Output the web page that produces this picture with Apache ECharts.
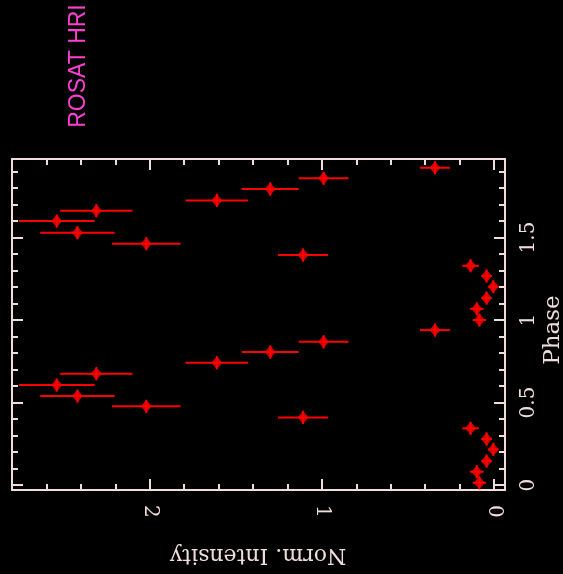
<!DOCTYPE html>
<html><head><meta charset="utf-8">
<script src="https://cdn.jsdelivr.net/npm/echarts@6/dist/echarts.min.js"></script>
<style>html,body{margin:0;padding:0;background:#000;}#c{width:563px;height:574px;}</style>
</head><body><div id="c"></div>
<script>
// Data (two phase cycles)
const phase = [0.014,0.081,0.145,0.216,0.279,0.344,0.410,0.477,0.539,0.606,0.675,0.741,0.806,0.868,0.939,
               1.000,1.068,1.133,1.202,1.267,1.329,1.394,1.462,1.529,1.600,1.662,1.725,1.794,1.859,1.923];
const intensity = [0.085,0.100,0.043,0.004,0.043,0.136,1.109,2.020,2.420,2.540,2.310,1.610,1.300,0.990,0.343,
                   0.085,0.100,0.043,0.004,0.043,0.136,1.109,2.020,2.420,2.540,2.310,1.610,1.300,0.990,0.343];
const intensityErr = [0.039,0.040,0.030,0.030,0.030,0.048,0.145,0.199,0.216,0.220,0.210,0.182,0.166,0.145,0.087,
                      0.039,0.040,0.030,0.030,0.030,0.048,0.145,0.199,0.216,0.220,0.210,0.182,0.166,0.145,0.087];
const phaseHalfBin = 0.04;
const intensityMinorTicks = [0,0.2,0.4,0.6,0.8,1,1.2,1.4,1.6,1.8,2,2.2,2.4,2.6];
const intensityMajorTicks = [0,1,2];
const phaseMinorTicks = [0,0.1,0.2,0.3,0.4,0.5,0.6,0.7,0.8,0.9,1,1.1,1.2,1.3,1.4,1.5,1.6,1.7,1.8,1.9];
const phaseMajorTicks = [0,0.5,1,1.5];
const title = 'ROSAT HRI';
const xName = 'Norm. Intensity';
const yName = 'Phase';

const fg = '#f0dcdc';
const red = '#ff0000';
const serif = 'DejaVu Serif';
const data = phase.map((p, i) => [intensity[i], p, intensityErr[i]]);

const xBase = {type:'value', min:-0.064, max:2.8, inverse:true, splitLine:{show:false}};
const yBase = {type:'value', min:-0.03, max:1.976, splitLine:{show:false}};
function ax(base, grid, pos, ticks, len, showLine, labelOpt){
  return Object.assign({}, base, {gridIndex:grid, position:pos,
    axisLine:{show:showLine, onZero:false, lineStyle:{color:fg, width:2}},
    axisTick:{show:true, inside:true, length:len, customValues:ticks, lineStyle:{color:fg, width:2}},
    axisLabel: labelOpt ? labelOpt : {show:false}});
}
const xLabel = {show:true, customValues:intensityMajorTicks, rotate:-90, margin:15, fontSize:20, fontFamily:serif, color:fg};
const yLabel = {show:true, customValues:phaseMajorTicks, rotate:90, margin:14, fontSize:20, fontFamily:serif, color:fg};
const gridRect = {left:12, right:58, top:159, bottom:84};

const chart = echarts.init(document.getElementById('c'), null, {renderer:'canvas'});
chart.setOption({
  backgroundColor:'#000',
  animation:false,
  grid:[Object.assign({}, gridRect), Object.assign({}, gridRect)],
  xAxis:[
    ax(xBase, 0, 'bottom', intensityMinorTicks, 6, true, xLabel),
    ax(xBase, 0, 'top', intensityMinorTicks, 6, true, null),
    ax(xBase, 1, 'bottom', intensityMajorTicks, 11, false, null),
    ax(xBase, 1, 'top', intensityMajorTicks, 11, false, null)
  ],
  yAxis:[
    ax(yBase, 0, 'right', phaseMinorTicks, 6, true, yLabel),
    ax(yBase, 0, 'left', phaseMinorTicks, 6, true, null),
    ax(yBase, 1, 'right', phaseMajorTicks, 11, false, null),
    ax(yBase, 1, 'left', phaseMajorTicks, 11, false, null)
  ],
  graphic:[
    {type:'text', x:79, y:66, rotation:Math.PI/2,
     style:{text:title, x:0, y:0, align:'center', verticalAlign:'middle', fill:'#ff3fd2',
            font:'23px "Liberation Sans", Arial, sans-serif'}},
    {type:'text', x:258, y:555, rotation:Math.PI,
     style:{text:xName, x:0, y:0, align:'center', verticalAlign:'middle', fill:fg,
            font:'22px "DejaVu Serif", serif'}},
    {type:'text', x:553, y:330, rotation:Math.PI/2,
     style:{text:yName, x:0, y:0, align:'center', verticalAlign:'middle', fill:fg,
            font:'23px "DejaVu Serif", serif'}}
  ],
  series:[
    {type:'custom', xAxisIndex:0, yAxisIndex:0, data:data, encode:{x:0, y:1},
     renderItem:function(params, api){
       const I = api.value(0), P = api.value(1), e = api.value(2);
       const a = api.coord([I - e, P]), b = api.coord([I + e, P]);
       const c = api.coord([I, P - phaseHalfBin]), d = api.coord([I, P + phaseHalfBin]);
       return {type:'group', children:[
         {type:'line', shape:{x1:a[0], y1:a[1], x2:b[0], y2:b[1]}, style:{stroke:red, lineWidth:2}},
         {type:'line', shape:{x1:c[0], y1:c[1], x2:d[0], y2:d[1]}, style:{stroke:red, lineWidth:2}}
       ]};
     }},
    {type:'scatter', xAxisIndex:0, yAxisIndex:0, data:data.map(d => [d[0], d[1]]),
     symbol:'diamond', symbolSize:[11,13], itemStyle:{color:red}}
  ]
});
</script>
</body></html>
